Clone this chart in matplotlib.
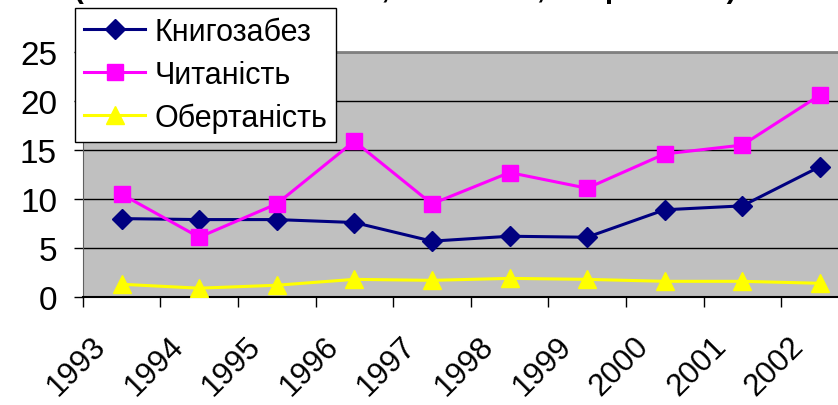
import numpy as np
import matplotlib.pyplot as plt
from matplotlib.transforms import ScaledTranslation

plt.rcParams['font.family'] = ['Liberation Sans', 'DejaVu Sans']

years = ['1993', '1994', '1995', '1996', '1997', '1998', '1999', '2000', '2001', '2002']
knyhozabez = [8.0, 7.9, 7.9, 7.6, 5.7, 6.2, 6.1, 8.9, 9.3, 13.3]
chytanist = [10.5, 6.1, 9.5, 15.9, 9.5, 12.7, 11.1, 14.6, 15.5, 20.6]
obertanist = [1.3, 0.9, 1.2, 1.8, 1.7, 1.9, 1.8, 1.6, 1.6, 1.4]

W, H = 838, 406
fig = plt.figure(figsize=(W / 100, H / 100), dpi=100)
# plot area runs past the right edge, as in the reference crop
ax = fig.add_axes([82.7 / W, 1 - 298 / H, 776 / W, 245 / H])
ax.set_facecolor('#c0c0c0')

x = np.arange(len(years)) + 0.5
ax.plot(x, knyhozabez, color='#000080', lw=2.2, marker='D', ms=10.5, label='Книгозабез', zorder=3)
ax.plot(x, chytanist, color='#ff00ff', lw=2.2, marker='s', ms=12, label='Читаність', zorder=3)
ax.plot(x, obertanist, color='#ffff00', lw=2.2, marker='^', ms=13, label='Обертаність', zorder=3)

ax.set_xlim(0, len(years))
ax.set_ylim(0, 25)
ax.set_yticks(range(0, 26, 5))
ax.yaxis.grid(True, color='black', lw=1)
ax.set_axisbelow(True)

ax.set_xticks(range(len(years) + 1))
ax.set_xticklabels([])
ax.set_xticks(x, minor=True)
ax.tick_params(axis='x', which='minor', length=0, pad=24)
ax.tick_params(axis='x', which='major', length=7, width=1, direction='out')
ax.tick_params(axis='y', length=6.5, width=1, direction='out', labelsize=24, pad=12)
ax.set_xticklabels(years, minor=True, rotation=45, ha='right', va='top',
                   rotation_mode='anchor', fontsize=22.5)
# nudge rotated year labels left (after tick_params, which resets transforms)
shift = ScaledTranslation(-31 / 100, 0, fig.dpi_scale_trans)
for lbl in ax.get_xticklabels(minor=True):
    lbl.set_transform(lbl.get_transform() + shift)

for s in ['top', 'right']:
    ax.spines[s].set_color('#808080')
    ax.spines[s].set_linewidth(2)
ax.spines['left'].set_color('#606060')
ax.spines['bottom'].set_color('black')
ax.spines['bottom'].set_linewidth(1.5)

leg = ax.legend(loc='upper left', bbox_to_anchor=(75 / W, 1 - 9 / H),
                bbox_transform=fig.transFigure, fontsize=22, frameon=True,
                fancybox=False, edgecolor='black', framealpha=1,
                borderpad=0.3, labelspacing=0.42, handlelength=2.0,
                handletextpad=0.3, borderaxespad=0)
leg.get_frame().set_linewidth(1)
leg.set_zorder(5)

# title is cut off at the top of the picture, as in the reference
fig.text(405 / W, 1 + 2 / H, '(книгозабезпеченість, читаність, обертаність)',
         ha='center', va='baseline', fontsize=21, fontweight='bold')

fig.savefig('out.png', dpi=100)
